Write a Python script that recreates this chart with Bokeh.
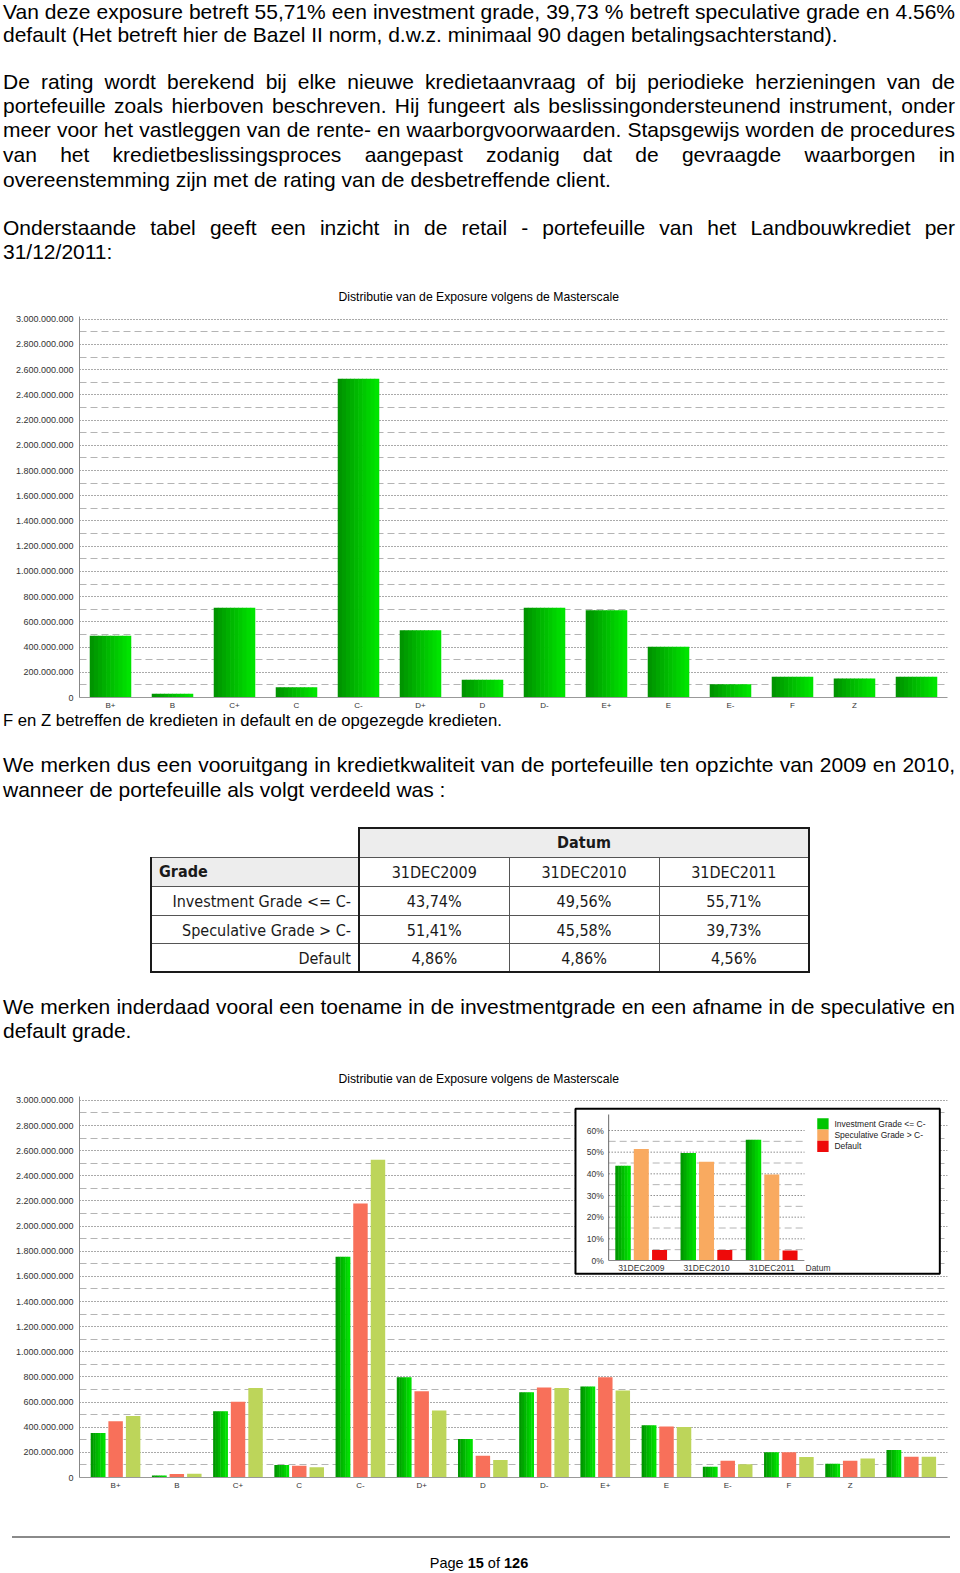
import html
from bokeh.plotting import figure
from bokeh.models import (FactorRange, Range1d, FixedTicker, Div,
                          CustomJSTickFormatter, ColumnDataSource)
from bokeh.layouts import column
from bokeh.transform import dodge
from bokeh.core.properties import value
from bokeh.embed import file_html
from bokeh.resources import INLINE

# ---------------- data ----------------
grades = ["B+", "B", "C+", "C", "C-", "D+", "D", "D-", "E+", "E", "E-", "F", "Z", " "]
expo_2009 = [355e6, 16e6, 528e6, 99e6, 1756e6, 798e6, 307e6, 678e6, 723e6, 416e6, 86e6, 200e6, 110e6, 219e6]
expo_2010 = [448e6, 27e6, 603e6, 94e6, 2180e6, 686e6, 174e6, 715e6, 798e6, 406e6, 134e6, 200e6, 134e6, 166e6]
expo_2011 = [490e6, 30e6, 712e6, 82e6, 2528e6, 534e6, 140e6, 712e6, 692e6, 402e6, 105e6, 164e6, 151e6, 165e6]
y_ticks = [i * 200_000_000 for i in range(16)]
y_minor = [100_000_000 + i * 200_000_000 for i in range(15)]

dates = ["31DEC2009", "31DEC2010", "31DEC2011"]
series_names = ["Investment Grade <= C-", "Speculative Grade > C-", "Default"]
pct_invest = [43.74, 49.56, 55.71]
pct_spec = [51.41, 45.58, 39.73]
pct_default = [4.86, 4.86, 4.56]
pct_ticks = [0, 10, 20, 30, 40, 50, 60]
pct_minor = [5, 15, 25, 35, 45, 55]

chart_title = "Distributie van de Exposure volgens de Masterscale"

FONT = "Liberation Sans"
W = 952

GREEN_L = (0x00, 0x90, 0x00)
GREEN_R = (0x00, 0xE8, 0x00)
SALMON = "#f8705a"
YGREEN = "#bdd55a"
ORANGE = "#f9aa60"
RED = "#ee0a0a"


def mix(t):
    r = round(GREEN_L[0] + (GREEN_R[0] - GREEN_L[0]) * t)
    g = round(GREEN_L[1] + (GREEN_R[1] - GREEN_L[1]) * t)
    b = round(GREEN_L[2] + (GREEN_R[2] - GREEN_L[2]) * t)
    return "#%02x%02x%02x" % (r, g, b)


def gradient_vbar(p, src, xfield, top, center_off, width, cat_range=None, n=8, **kw):
    for k in range(n):
        t = (k + 0.5) / n
        off = center_off - width / 2 + (k + 0.5) * width / n
        p.vbar(x=dodge(xfield, off, range=cat_range), top=top, bottom=0,
               width=width / n * 1.15, source=src, fill_color=mix(t),
               line_color=None, **kw)


def style_main(p, title_standoff):
    p.outline_line_color = None
    p.background_fill_color = "white"
    p.border_fill_color = "white"
    tk = FixedTicker(ticks=y_ticks, minor_ticks=y_minor)
    yax = p.yaxis[0]
    yax.ticker = tk
    yax.formatter = CustomJSTickFormatter(
        code=r"return Math.round(tick).toString().replace(/\B(?=(\d{3})+(?!\d))/g, '.');")
    yax.major_label_text_font = FONT
    yax.major_label_text_font_size = "9px"
    yax.major_label_text_color = "#333333"
    yax.major_tick_line_color = None
    yax.major_tick_out = 0
    yax.major_tick_in = 0
    yax.minor_tick_line_color = None
    yax.minor_tick_out = 0
    yax.axis_line_color = "#888888"
    yax.major_label_standoff = 6
    xax = p.xaxis[0]
    xax.major_label_text_font = FONT
    xax.major_label_text_font_size = "8px"
    xax.major_label_text_color = "#333333"
    xax.major_tick_line_color = None
    xax.major_tick_out = 0
    xax.major_tick_in = 0
    xax.minor_tick_line_color = None
    xax.minor_tick_out = 0
    xax.axis_line_color = "#999999"
    xax.major_label_standoff = 3
    p.ygrid.ticker = tk
    p.ygrid.grid_line_color = "#555555"
    p.ygrid.grid_line_dash = "1 2"
    p.ygrid.minor_grid_line_color = "#b4b4b4"
    p.ygrid.minor_grid_line_dash = "7 4"
    p.xgrid.visible = False
    p.title.align = "left"
    p.title.offset = 259
    p.title.text_font = FONT
    p.title.text_font_size = "12.2px"
    p.title.text_font_style = "normal"
    p.title.text_color = "#000000"
    p.title.standoff = title_standoff


# ---------------- text blocks ----------------
def line(text, center, justify, size=21, lh=24.2):
    align = ("text-align:justify;text-align-last:justify;" if justify else "text-align:left;")
    return (f'<div style="position:absolute;left:0;top:{center - lh / 2:.1f}px;width:{W}px;'
            f'white-space:nowrap;{align}font-family:\'{FONT}\';font-size:{size}px;'
            f'line-height:{lh}px;color:#000">{html.escape(text)}</div>')


def block(lines, height):
    return (f'<div style="position:relative;width:{W}px;height:{height}px">'
            + "".join(lines) + "</div>")


textA = block([
    line("Van deze exposure betreft 55,71% een investment grade, 39,73 % betreft speculative grade en 4.56%", 12.0, True),
    line("default (Het betreft hier de Bazel II norm, d.w.z. minimaal 90 dagen betalingsachterstand).", 35.1, False),
    line("De rating wordt berekend bij elke nieuwe kredietaanvraag of bij periodieke herzieningen van de", 82.3, True),
    line("portefeuille zoals hierboven beschreven. Hij fungeert als beslissingondersteunend instrument, onder", 106.3, True),
    line("meer voor het vastleggen van de rente- en waarborgvoorwaarden. Stapsgewijs worden de procedures", 130.4, True),
    line("van het kredietbeslissingsproces aangepast zodanig dat de gevraagde waarborgen in", 155.5, True),
    line("overeenstemming zijn met de rating van de desbetreffende client.", 179.6, False),
    line("Onderstaande tabel geeft een inzicht in de retail - portefeuille van het Landbouwkrediet per", 227.7, True),
    line("31/12/2011:", 251.8, False),
], 266)
divA = Div(text=textA, width=W, height=266, margin=0)

textB = block([
    line("F en Z betreffen de kredieten in default en de opgezegde kredieten.", 8.5, False, size=16.7, lh=18),
    line("We merken dus een vooruitgang in kredietkwaliteit van de portefeuille ten opzichte van 2009 en 2010,", 53.5, True),
    line("wanneer de portefeuille als volgt verdeeld was :", 77.6, False),
], 90)
divB = Div(text=textB, width=W, height=90, margin=0)

textD = block([
    line("We merken inderdaad vooral een toename in de investmentgrade en een afname in de speculative en", 12.3, True),
    line("default grade.", 36.4, False),
], 49)
divD = Div(text=textD, width=W, height=49, margin=0)


# ---------------- table ----------------
def pct(v):
    return f"{v:.2f}".replace(".", ",") + "%"


TF = ("font-family:'DejaVu Sans Condensed','DejaVu Sans';font-stretch:condensed;"
      "font-size:16px;color:#1a1a1a;")
THICK = "2px solid #1a1a1a"
THIN = "1px solid #555"
cells = []
cells.append('<tr style="height:30px"><td style="border:none;padding:0"></td>'
             f'<td colspan="3" style="background:#ededed;border-top:{THICK};border-left:{THICK};'
             f'border-right:{THICK};border-bottom:{THIN};text-align:center;vertical-align:bottom;'
             'padding:0 0 2px 0;font-weight:bold">Datum</td></tr>')
row = ('<tr style="height:29px">'
       f'<td style="background:#ededed;border-top:{THIN};border-left:{THICK};border-right:{THICK};'
       f'border-bottom:{THIN};font-weight:bold;padding:0 0 0 7px;vertical-align:middle">Grade</td>')
for i, d in enumerate(dates):
    br = THICK if i == len(dates) - 1 else THIN
    row += (f'<td style="border-top:{THIN};border-bottom:{THIN};border-left:{THIN};border-right:{br};'
            f'text-align:center;vertical-align:bottom;padding:0 0 1px 0">{d}</td>')
row += "</tr>"
cells.append(row)
body = [(series_names[0], pct_invest, 29), (series_names[1], pct_spec, 28), (series_names[2], pct_default, 28)]
for r, (name, vals, h) in enumerate(body):
    bb = THICK if r == len(body) - 1 else THIN
    row = (f'<tr style="height:{h}px">'
           f'<td style="border-left:{THICK};border-right:{THICK};border-bottom:{bb};border-top:{THIN};'
           f'text-align:right;padding:3px 7px 0 0;vertical-align:middle">{html.escape(name)}</td>')
    for i, v in enumerate(vals):
        br = THICK if i == len(vals) - 1 else THIN
        row += (f'<td style="border-top:{THIN};border-bottom:{bb};border-left:{THIN};border-right:{br};'
                f'text-align:center;vertical-align:middle;padding:3px 0 0 0">{pct(v)}</td>')
    row += "</tr>"
    cells.append(row)
table_html = (f'<div style="position:relative;width:{W}px;height:193px">'
              f'<table style="position:absolute;left:147px;top:24.7px;border-collapse:collapse;'
              f'table-layout:fixed;width:658px;{TF}">'
              '<colgroup><col style="width:208px"><col style="width:150px">'
              '<col style="width:150px"><col style="width:150px"></colgroup>'
              + "".join(cells) + "</table></div>")
divC = Div(text=table_html, width=W, height=193, margin=0)

# ---------------- footer ----------------
footer = (f'<div style="position:relative;width:{W}px;height:72px">'
          '<div style="position:absolute;left:9px;top:43px;width:938px;height:0;'
          'border-top:2px solid #8a8a8a"></div>'
          f'<div style="position:absolute;left:0;top:70px;width:{W}px;height:0;line-height:0;'
          f'text-align:center;font-family:\'{FONT}\';font-size:14.5px;color:#000">'
          'Page <b>15</b> of <b>126</b></div></div>')
divE = Div(text=footer, width=W, height=72, margin=0)

# ---------------- chart 1 ----------------
src1 = ColumnDataSource(dict(cat=grades, y11=expo_2011))
p1 = figure(x_range=FactorRange(factors=grades), y_range=Range1d(0, 3.0214e9),
            width=W, height=446, title=chart_title, output_backend="svg",
            toolbar_location=None, min_border_left=76, min_border_right=8,
            min_border_top=50, min_border_bottom=15, margin=0)
style_main(p1, 26)
gradient_vbar(p1, src1, "cat", "y11", 0.0, 0.66, cat_range=p1.x_range, n=10)

# ---------------- chart 2 (numeric x so an inset can share the canvas) ----------------
ng = len(grades)
pos = [i + 0.5 for i in range(ng)]
src2 = ColumnDataSource(dict(pos=pos, y09=expo_2009, y10=expo_2010, y11=expo_2011))
PAD = 0.09
p2 = figure(x_range=Range1d(-PAD, ng + PAD), y_range=Range1d(0, 3.031e9), width=W,
            height=449, title=chart_title, output_backend="svg", toolbar_location=None,
            min_border_left=76, min_border_right=5, min_border_top=52,
            min_border_bottom=16, margin=0)
style_main(p2, 22)
p2.xaxis[0].ticker = FixedTicker(ticks=pos, minor_ticks=[])
p2.xaxis[0].formatter = CustomJSTickFormatter(
    args=dict(labels=grades), code="return labels[Math.floor(tick)] || '';")
BW = 0.236
PITCH = 0.286
gradient_vbar(p2, src2, "pos", "y09", -PITCH, BW, n=6)
p2.vbar(x="pos", top="y10", width=BW, source=src2, fill_color=SALMON, line_color=None)
p2.vbar(x=dodge("pos", PITCH), top="y11", width=BW, source=src2,
        fill_color=YGREEN, line_color=None)

# inset chart drawn in its own ranges inside chart 2
FL, FR, FT, FB = 79.0, 950.0, 1096.0, 1477.0      # page px of chart-2 frame
IX0, IX3 = 610.0, 806.4                           # page px of inset x axis (0..3)
IY0, PPV = 1260.0, 130.0 / 60.0                   # page px of 0%, px per %
PPU = (IX3 - IX0) / 3.0


def U(px):
    return (px - IX0) / PPU


def V(py):
    return (IY0 - py) / PPV


p2.extra_x_ranges = {"ix": Range1d(U(FL), U(FR))}
p2.extra_y_ranges = {"iy": Range1d(V(FB), V(FT))}
IK = dict(x_range_name="ix", y_range_name="iy")

p2.quad(left=[U(576.7)], right=[U(942.3)], top=[V(1108.3)], bottom=[V(1273.3)],
        fill_color="white", line_color="#000000", line_width=2, **IK)
ncat = len(dates)
p2.segment(x0=[0] * len(pct_minor), x1=[ncat] * len(pct_minor), y0=pct_minor, y1=pct_minor,
           line_color="#b4b4b4", line_dash="7 4", line_width=1, **IK)
p2.segment(x0=[0] * (len(pct_ticks) - 1), x1=[ncat] * (len(pct_ticks) - 1),
           y0=pct_ticks[1:], y1=pct_ticks[1:], line_color="#555555", line_dash="1 2",
           line_width=1, **IK)
src3 = ColumnDataSource(dict(u=[i + 0.5 for i in range(ncat)], inv=pct_invest,
                             spec=pct_spec, dflt=pct_default, lab=dates))
IBW = 0.23
IP = 0.28
gradient_vbar(p2, src3, "u", "inv", -IP, IBW, n=5, **IK)
p2.vbar(x="u", top="spec", width=IBW, source=src3, fill_color=ORANGE,
        line_color=None, **IK)
p2.vbar(x=dodge("u", IP), top="dflt", width=IBW, source=src3, fill_color=RED,
        line_color=None, **IK)
p2.segment(x0=[0], x1=[0], y0=[0], y1=[V(1114)], line_color="#666666", line_width=1, **IK)
p2.segment(x0=[0], x1=[ncat], y0=[0], y1=[0], line_color="#888888", line_width=1, **IK)
p2.text(x=[U(605)] * len(pct_ticks), y=pct_ticks, text=[f"{t}%" for t in pct_ticks],
        text_font=value(FONT), text_font_size="8.5px", text_color="#333333",
        text_align="right", text_baseline="middle", **IK)
p2.text(x="u", y=V(1267), text="lab", source=src3, text_font=value(FONT),
        text_font_size="8.5px", text_color="#333333", text_align="center",
        text_baseline="middle", **IK)
p2.text(x=[U(807.5)], y=[V(1267)], text=["Datum"], text_font=value(FONT),
        text_font_size="8.5px", text_color="#333333", text_align="left",
        text_baseline="middle", **IK)
# legend
sw_top = [1117.7, 1129.0, 1140.3]
sw_cols = [mix(0.6), ORANGE, RED]
p2.quad(left=[U(819.3)] * 3, right=[U(830.7)] * 3, top=[V(t) for t in sw_top],
        bottom=[V(t + 11.3) for t in sw_top], fill_color=sw_cols, line_color=None, **IK)
p2.text(x=[U(836.5)] * 3, y=[V(t + 5.3) for t in sw_top], text=series_names,
        text_font=value(FONT), text_font_size="8.5px", text_color="#222222",
        text_align="left", text_baseline="middle", **IK)

root = column(divA, p1, divB, divC, divD, p2, divE, spacing=0, margin=(0, 0, 0, 3))

open("out.html", "w").write(file_html(root, INLINE))
